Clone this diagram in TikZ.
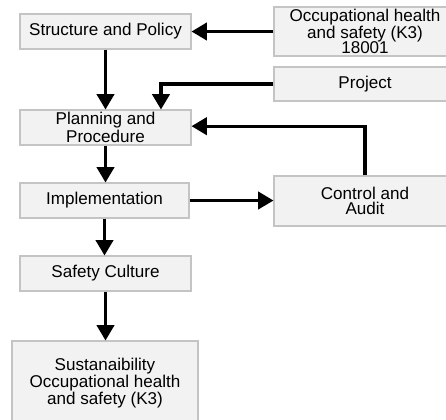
\documentclass[tikz,border=0pt]{standalone}
\usepackage{fontspec}
\setmainfont{Liberation Sans}
\usetikzlibrary{arrows.meta}
\definecolor{boxfill}{HTML}{F2F2F2}
\definecolor{boxline}{HTML}{C4C4C4}
\begin{document}
\begin{tikzpicture}[x=0.75pt,y=-0.75pt,
  box/.style={draw=boxline, fill=boxfill, line width=0.8pt, align=center,
    inner sep=0pt, font=\fontsize{12.8}{11.6}\selectfont},
  arr/.style={line width=2.3pt, -{Triangle[width=13pt,length=11.5pt]}}]
  \useasboundingbox (0,0) rectangle (446,419);
  \clip (0,0) rectangle (446,419);
  % left column
  \node[box, minimum width=128.25pt, minimum height=26.25pt] (sp) at (105.5,31.5) {Structure and Policy};
  \node[box, minimum width=128.25pt, minimum height=26.25pt] (pp) at (105.5,127.5) {Planning and\\Procedure};
  \node[box, minimum width=126.75pt, minimum height=26.25pt] (impl) at (104.5,200.5) {Implementation};
  \node[box, minimum width=128.25pt, minimum height=26.25pt] (sc) at (105.5,273.5) {Safety Culture};
  \node[box, minimum width=139.5pt, minimum height=63pt] (sus) at (105,383) {Sustanaibility\\Occupational health\\and safety (K3)};
  % right column
  \node[box, minimum width=136.5pt, minimum height=36.75pt] (ohs) at (365,31.5) {Occupational health\\and safety (K3)\\18001};
  \node[box, minimum width=136.5pt, minimum height=25.5pt] (proj) at (365,84) {Project};
  \node[box, minimum width=136.5pt, minimum height=37.5pt] (ca) at (365,201) {Control and\\Audit};
  % connectors
  \draw[arr] (ohs.west) -- (ohs.west -| sp.east);
  \draw[arr] (sp.south) -- (sp.south |- pp.north);
  \draw[arr] (proj.west) -| ([xshift=41.6pt]pp.north);
  \draw[arr] (ca.north) |- ([yshift=1pt]pp.east);
  \draw[arr] (pp.south) -- (pp.south |- impl.north);
  \draw[arr] (impl.east) -- (impl.east -| ca.west);
  \draw[arr] (impl.south) -- (impl.south |- sc.north);
  \draw[arr] (sc.south) -- (sc.south |- sus.north);
\end{tikzpicture}
\end{document}
